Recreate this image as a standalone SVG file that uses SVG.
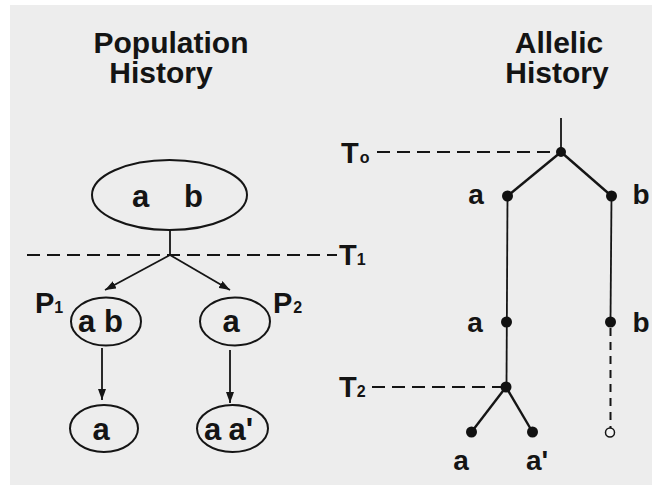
<svg xmlns="http://www.w3.org/2000/svg" width="656" height="489" viewBox="0 0 656 489">
  <style>
    .title { font-family: "Liberation Sans", Arial, sans-serif; font-weight: bold; font-size: 30px; fill: #141414; text-anchor: middle; }
    .lbl { font-family: "Liberation Sans", Arial, sans-serif; font-weight: bold; font-size: 28px; fill: #141414; text-anchor: middle; }
    .big { font-size: 31px; }
    .start { text-anchor: start; }
    .cap { font-family: "Liberation Sans", Arial, sans-serif; font-weight: bold; font-size: 29px; fill: #141414; }
    .sub { font-size: 16px; }
    .shape { fill: none; stroke: #151515; stroke-width: 2; }
    .line { fill: none; stroke: #151515; stroke-width: 1.8; }
    .branch { fill: none; stroke: #151515; stroke-width: 2.4; }
    .dash { fill: none; stroke: #151515; stroke-width: 1.8; stroke-dasharray: 13 7; }
    .dash-short { fill: none; stroke: #151515; stroke-width: 2; stroke-dasharray: 8 6; }
    .dot { fill: #111; }
    .open { fill: #f4f4f4; stroke: #151515; stroke-width: 1.5; }
  </style>
  <defs>
    <marker id="arrow" viewBox="0 0 11 8" refX="11" refY="4" markerWidth="11" markerHeight="8" markerUnits="userSpaceOnUse" orient="auto">
      <path d="M0,0 L11,4 L0,8 Z" fill="#151515"/>
    </marker>
  </defs>

  <!-- paper -->
  <rect x="0" y="0" width="656" height="489" fill="#ffffff"/>
  <rect x="10" y="5" width="642" height="480" fill="#ededed"/>

  <!-- headings -->
  <text class="title" x="171" y="53">Population</text>
  <text class="title" x="161" y="83">History</text>
  <text class="title" x="559" y="53">Allelic</text>
  <text class="title" x="557" y="83">History</text>

  <!-- time markers -->
  <g id="time-lines">
    <line class="dash" x1="27" y1="255" x2="337" y2="255"/>
    <line class="dash" x1="377" y1="152" x2="556" y2="152"/>
    <line class="dash" x1="372" y1="387" x2="502" y2="387"/>
    <text class="cap" x="341" y="163">T<tspan class="sub" dx="1">o</tspan></text>
    <text class="cap" x="339" y="265">T<tspan class="sub" dx="0">1</tspan></text>
    <text class="cap" x="339" y="397">T<tspan class="sub" dx="0">2</tspan></text>
  </g>

  <!-- population history -->
  <g id="ancestral-pop">
    <ellipse class="shape" cx="169.5" cy="195" rx="77.5" ry="35"/>
    <text class="lbl big" x="140.5" y="207">a</text>
    <text class="lbl big" x="193.5" y="207">b</text>
  </g>
  <g id="pop-p1">
    <ellipse class="shape" cx="106" cy="321.5" rx="35" ry="24"/>
    <text class="lbl big" x="86.5" y="332">a</text>
    <text class="lbl big" x="113.5" y="332">b</text>
    <text class="cap" x="35" y="313">P<tspan class="sub" dx="0">1</tspan></text>
  </g>
  <g id="pop-p2">
    <ellipse class="shape" cx="235" cy="321.5" rx="35" ry="24"/>
    <text class="lbl big" x="231" y="332">a</text>
    <text class="cap" x="273" y="313">P<tspan class="sub" dx="1">2</tspan></text>
  </g>
  <g id="pop-p1-later">
    <ellipse class="shape" cx="104" cy="428.5" rx="34" ry="23.5"/>
    <text class="lbl big" x="101" y="440">a</text>
  </g>
  <g id="pop-p2-later">
    <ellipse class="shape" cx="232.5" cy="428.5" rx="35.5" ry="23.5"/>
    <text class="lbl big" x="212.5" y="440">a</text>
    <text class="lbl big start" x="228.5" y="440">a'</text>
  </g>

  <g id="pop-connectors">
    <line class="line" x1="170" y1="230" x2="170" y2="255"/>
    <line class="line" x1="170" y1="255" x2="105" y2="290" marker-end="url(#arrow)"/>
    <line class="line" x1="170" y1="255" x2="230" y2="290" marker-end="url(#arrow)"/>
    <line class="line" x1="102" y1="348" x2="102" y2="400" marker-end="url(#arrow)"/>
    <line class="line" x1="230" y1="350" x2="230" y2="403" marker-end="url(#arrow)"/>
  </g>

  <!-- allelic history (gene tree) -->
  <g id="gene-tree-edges">
    <line class="line" x1="561" y1="118" x2="561" y2="152"/>
    <line class="branch" x1="561" y1="152" x2="507.5" y2="196"/>
    <line class="branch" x1="561" y1="152" x2="611.5" y2="196"/>
    <line class="line" x1="507.5" y1="196" x2="506.5" y2="387"/>
    <line class="line" x1="611.5" y1="196" x2="610.5" y2="322"/>
    <line class="dash-short" x1="610.5" y1="328" x2="610.5" y2="428"/>
    <line class="branch" x1="506" y1="387" x2="471.5" y2="432"/>
    <line class="branch" x1="506" y1="387" x2="532.5" y2="432"/>
  </g>
  <g id="node-root"><circle class="dot" cx="561" cy="152" r="5"/></g>
  <g id="node-a1">
    <circle class="dot" cx="507.5" cy="196" r="5.5"/>
    <text class="lbl" x="476" y="204">a</text>
  </g>
  <g id="node-b1">
    <circle class="dot" cx="611.5" cy="196" r="5.5"/>
    <text class="lbl" x="641" y="204">b</text>
  </g>
  <g id="node-a2">
    <circle class="dot" cx="506.5" cy="322" r="5.5"/>
    <text class="lbl" x="475" y="332">a</text>
  </g>
  <g id="node-b2">
    <circle class="dot" cx="610.5" cy="322" r="5.5"/>
    <text class="lbl" x="641" y="332">b</text>
  </g>
  <g id="node-t2"><circle class="dot" cx="506" cy="387" r="5.5"/></g>
  <g id="node-leaf-a">
    <circle class="dot" cx="471.5" cy="432" r="5.5"/>
    <text class="lbl" x="461" y="470">a</text>
  </g>
  <g id="node-leaf-a-prime">
    <circle class="dot" cx="532.5" cy="432" r="5.5"/>
    <text class="lbl start" x="526" y="470">a'</text>
  </g>
  <g id="node-leaf-b-lost">
    <circle class="open" cx="610" cy="432.5" r="4.5"/>
  </g>
</svg>
